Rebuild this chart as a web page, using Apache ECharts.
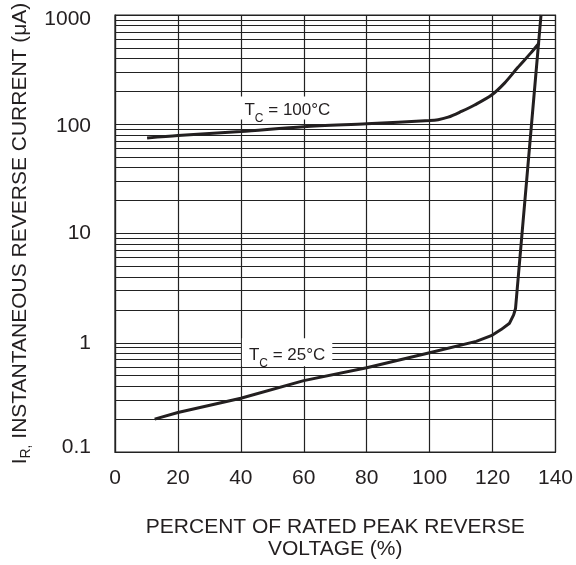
<!DOCTYPE html>
<html><head><meta charset="utf-8">
<script src="https://cdn.jsdelivr.net/npm/echarts@6/dist/echarts.min.js"></script>
<style>html,body{margin:0;padding:0;background:#fff}#c{width:576px;height:565px}</style>
</head><body><div id="c"></div>
<script>
// Tick labels
const xTicks = [0, 20, 40, 60, 80, 100, 120, 140];
const yTicks = [0.1, 1, 10, 100, 1000];
// Minor log grid lines (2..9 per decade)
const minorY = [0.2,0.3,0.4,0.5,0.6,0.7,0.8,0.9, 2,3,4,5,6,7,8,9, 20,30,40,50,60,70,80,90, 200,300,400,500,600,700,800,900];
// T_C = 100°C curve
const hotX = [10.2, 20, 40, 60, 80, 100, 102.7, 105.9, 110.1, 114.3, 119.7, 123.8, 128.0, 132.2, 134.8];
const hotY = [75, 79, 86, 95, 101, 108, 110, 116, 131, 150, 185, 238, 330, 450, 554];
// T_C = 25°C curve
const coldX = [12.6, 20, 40, 60, 80, 100, 114.8, 119.6, 122.7, 125.4, 126.7, 127.3, 135.4];
const coldY = [0.2, 0.23, 0.31, 0.45, 0.59, 0.81, 1.03, 1.16, 1.32, 1.51, 1.80, 2.06, 1000];
// curve labels
const labelHot = {x: 54.8, y: 141, text: ['T', 'C', ' = 100°C']};
const labelCold = {x: 54.7, y: 0.82, text: ['T', 'C', ' = 25°C']};

const FONT = '"Liberation Sans", Arial, sans-serif';
const INK = '#231f20';
const zip = (a, b) => a.map((v, i) => [v, b[i]]);
const rich = {
  t: {fontSize: 17, fontFamily: FONT, color: INK, lineHeight: 18, verticalAlign: 'top'},
  s: {fontSize: 12, fontFamily: FONT, color: INK, lineHeight: 13, padding: [11, 0, 0, 0], verticalAlign: 'top'}
};
function lbl(o, pad) {
  return {
    coord: [o.x, o.y],
    label: {padding: pad, formatter: '{t|' + o.text[0] + '}{s|' + o.text[1] + '}{t|' + o.text[2] + '}'}
  };
}

const chart = echarts.init(document.getElementById('c'), null, {renderer: 'canvas'});
chart.setOption({
  animation: false,
  backgroundColor: '#fff',
  grid: {left: 115, right: 18, top: 15, bottom: 108, show: true, borderColor: '#222', borderWidth: 1.2, backgroundColor: 'transparent'},
  xAxis: {
    type: 'value', min: xTicks[0], max: xTicks[xTicks.length - 1], interval: 20,
    axisLine: {show: true, lineStyle: {color: '#222', width: 1.2}},
    axisTick: {show: false},
    splitLine: {show: true, lineStyle: {color: '#222', width: 1.2}},
    axisLabel: {fontSize: 21, fontFamily: FONT, color: INK, margin: 16},
    name: 'PERCENT OF RATED PEAK REVERSE\nVOLTAGE (%)',
    nameLocation: 'middle', nameGap: 64,
    nameTextStyle: {fontSize: 21, fontFamily: FONT, color: INK, lineHeight: 22}
  },
  yAxis: {
    type: 'log', logBase: 10, min: yTicks[0], max: yTicks[yTicks.length - 1],
    axisLine: {show: true, lineStyle: {color: '#222', width: 1.2}},
    axisTick: {show: false},
    splitLine: {show: true, lineStyle: {color: '#222', width: 1.2}},
    axisLabel: {fontSize: 21, fontFamily: FONT, color: INK, margin: 24,
      formatter: v => {
        const m = yTicks.find(t => Math.abs(t - v) / t < 1e-6);
        if (m === undefined) return '';
        if (m === yTicks[yTicks.length - 1]) return '{hi|' + m + '}';
        if (m === yTicks[0]) return '{lo|' + m + '}';
        if (m === 100) return '{mh|' + m + '}';
        return String(m);
      },
      rich: {
        hi: {fontSize: 21, fontFamily: FONT, color: INK, padding: [9, 0, 0, 0]},
        mh: {fontSize: 21, fontFamily: FONT, color: INK, padding: [4, 0, 0, 0]},
        lo: {fontSize: 21, fontFamily: FONT, color: INK, padding: [0, 0, 10, 0]}
      }
    },
    name: '{t|I}{s|R,}{t| INSTANTANEOUS REVERSE CURRENT (μA)}',
    nameLocation: 'middle', nameGap: 81, nameRotate: 90,
    nameTextStyle: {rich: {
      t: {fontSize: 21, fontFamily: FONT, color: INK, lineHeight: 22, verticalAlign: 'top'},
      s: {fontSize: 14, fontFamily: FONT, color: INK, lineHeight: 16, padding: [10, 0, 0, 0], verticalAlign: 'top'}
    }}
  },
  series: [
    {
      type: 'line', data: [], silent: true, z: 1,
      markLine: {
        silent: true, symbol: ['none', 'none'], label: {show: false},
        lineStyle: {color: '#222', width: 1, type: 'solid'},
        data: minorY.map(v => ({yAxis: v}))
      }
    },
    {
      name: 'hot', type: 'line', data: zip(hotX, hotY), smooth: 0.3, symbol: 'none',
      lineStyle: {color: INK, width: 3}, z: 3
    },
    {
      name: 'cold', type: 'line', data: zip(coldX, coldY), smooth: false, symbol: 'none',
      lineStyle: {color: INK, width: 3, join: 'round'}, z: 3,
      markPoint: {
        silent: true, symbol: 'rect', symbolSize: 0,
        label: {show: true, position: 'inside', backgroundColor: '#fff', rich: rich},
        data: [lbl(labelHot, [5, 7, 0, 7]), lbl(labelCold, [9, 7, 1, 7])]
      }
    }
  ]
});
</script></body></html>
